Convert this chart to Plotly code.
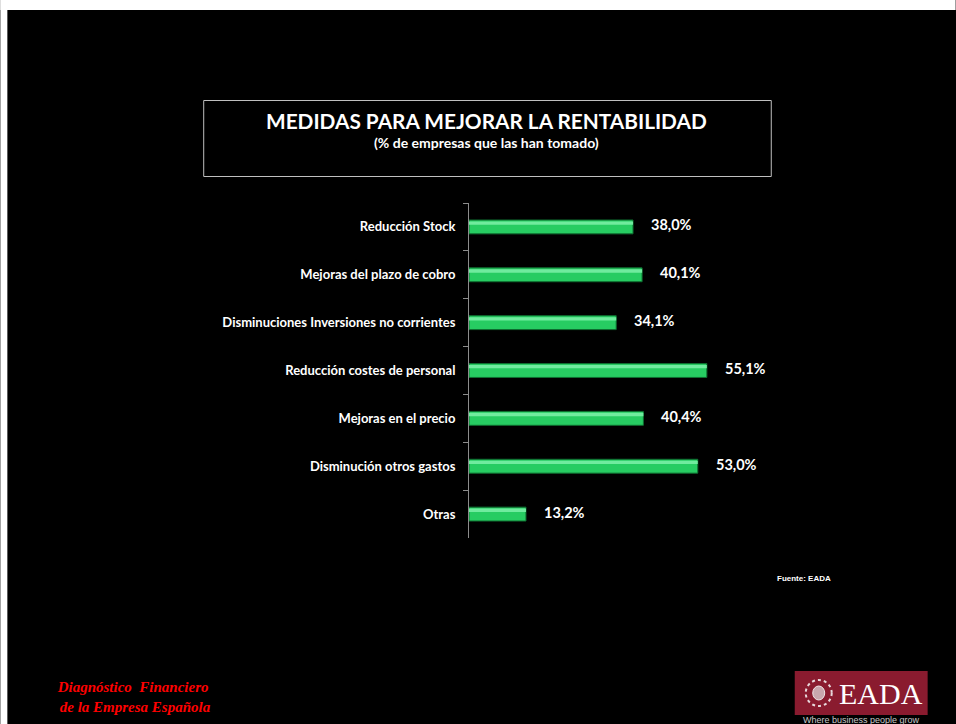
import plotly.graph_objects as go

# Datos
categorias = [
    "Reducción Stock",
    "Mejoras del plazo de cobro",
    "Disminuciones Inversiones no corrientes",
    "Reducción costes de personal",
    "Mejoras en el precio",
    "Disminución otros gastos",
    "Otras",
]
porcentajes = [38.0, 40.1, 34.1, 55.1, 40.4, 53.0, 13.2]
etiquetas = [f"{v:.1f}".replace(".", ",") + "%" for v in porcentajes]

titulo = "MEDIDAS PARA MEJORAR LA RENTABILIDAD"
subtitulo = "(% de empresas que las han tomado)"
fuente = "Fuente: EADA"

# Geometria (pixeles de la imagen de referencia)
W, H = 956, 724
L, T, B = 469, 203, 186
XMAX = 60
PLOT_W = XMAX * 4.32
R = W - L - PLOT_W
PLOT_H = H - T - B


def px(x):
    return (x - L) / PLOT_W


def py(y):
    return (H - B - y) / PLOT_H


def texto(x, y, t, size, family="Lato", color="white", xanchor="center"):
    fig.add_annotation(xref="paper", yref="paper", x=px(x), y=py(y), text=t,
                       showarrow=False, xanchor=xanchor, yanchor="middle", align="center",
                       font=dict(family=family, size=size, color=color))


fig = go.Figure()
fig.add_bar(
    x=porcentajes, y=categorias, orientation="h", width=0.29,
    marker=dict(color="#27cc62", line=dict(color="#0e6e30", width=1)),
    hoverinfo="skip",
)
# brillo superior de las barras
fig.add_bar(
    x=porcentajes, y=categorias, orientation="h", width=0.07, offset=-0.115,
    marker=dict(color="#70eb9e", line=dict(width=0)),
    hoverinfo="skip",
)

for c, v, t in zip(categorias, porcentajes, etiquetas):
    fig.add_annotation(
        x=v, y=c, text=f"<b>{t}</b>", showarrow=False, xanchor="left", yanchor="middle",
        xshift=16, yshift=2, font=dict(family="Lato", size=14.5, color="white"),
    )

fig.update_layout(
    width=W, height=H,
    margin=dict(l=L, r=R, t=T, b=B, pad=0),
    paper_bgcolor="black", plot_bgcolor="black",
    barmode="overlay", showlegend=False,
    xaxis=dict(range=[0, XMAX], visible=False, fixedrange=True),
    yaxis=dict(
        autorange="reversed", showline=True, linecolor="#8c8c8c", linewidth=1,
        ticks="outside", tickson="boundaries", ticklen=5, tickcolor="#8c8c8c",
        ticklabelstandoff=10, showgrid=False, fixedrange=True,
        tickfont=dict(family="Lato", size=13, color="white", weight="bold"),
    ),
)

# bordes blancos de la pagina (arriba e izquierda)
fig.add_shape(type="rect", xref="paper", yref="paper", x0=px(0), x1=px(W),
              y0=py(10), y1=py(0), fillcolor="white", line_width=0)
fig.add_shape(type="rect", xref="paper", yref="paper", x0=px(0), x1=px(7),
              y0=py(H), y1=py(0), fillcolor="white", line_width=0)

# caja del titulo
fig.add_shape(type="rect", xref="paper", yref="paper", x0=px(203.5), x1=px(771.5),
              y0=py(176.5), y1=py(100.5), line=dict(color="#bfbfbf", width=1))
texto(487, 121, f"<b>{titulo}</b>", 20.8)
texto(487, 143, f"<b>{subtitulo}</b>", 14)

texto(775, 578, f"<b>{fuente}</b>", 8, family="Liberation Sans", xanchor="left")

# pie rojo
texto(133, 697, "<b><i>Diagnóstico  Financiero<br> de la Empresa Española</i></b>", 15,
      family="Liberation Serif", color="#ff0000")

# logo EADA
fig.add_shape(type="rect", xref="paper", yref="paper", x0=px(795), x1=px(928),
              y0=py(715), y1=py(671), fillcolor="#8a1b2f", line_width=0)
fig.add_shape(type="circle", xref="paper", yref="paper", x0=px(806), x1=px(832),
              y0=py(706), y1=py(680), line=dict(color="#e8d8dc", width=2, dash="dot"))
fig.add_shape(type="circle", xref="paper", yref="paper", x0=px(813), x1=px(825),
              y0=py(700), y1=py(686), fillcolor="#c9a7ae", line=dict(color="#f0e6e8", width=1))
texto(881, 693, "EADA", 30, family="Liberation Serif")
texto(862, 720, "Where business people grow", 9, family="Liberation Sans", color="#c8c8c8")

# la figura ocupa toda la ventana, sin margen de pagina
fig.write_html(
    "out.html",
    config={"displayModeBar": False},
    post_script="document.body.style.margin='0';document.body.style.overflow='hidden';",
)
